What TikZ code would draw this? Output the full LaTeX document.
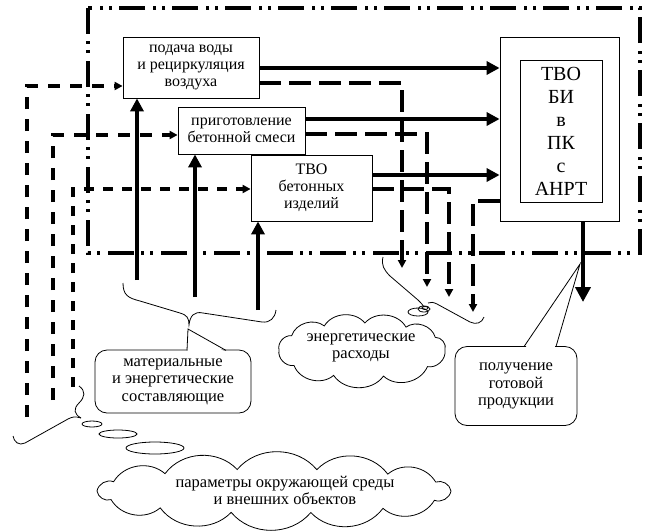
\documentclass[tikz,border=0pt]{standalone}
\usepackage{fontspec}
\setmainfont{Liberation Serif}
\usetikzlibrary{arrows.meta,calc}
\begin{document}
\begin{tikzpicture}[x=1pt,y=-1pt,
  box/.style={draw,line width=0.8pt,fill=white,align=center,inner sep=0pt,font=\fontsize{16}{17}\selectfont},
  bigtext/.style={align=center,inner sep=0pt,font=\fontsize{20}{23}\selectfont},
  callout/.style={draw,line width=0.8pt,fill=white,rounded corners=12pt,align=center,inner sep=0pt,font=\fontsize{16.5}{17.5}\selectfont},
  txt/.style={align=center,inner sep=0pt,font=\fontsize{16.5}{17}\selectfont},
  frame/.style={line width=3.2pt,dash pattern=on 26pt off 7pt on 3pt off 6pt on 3pt off 8pt},
  thickarrow/.style={line width=4.8pt,-{Triangle[length=13pt,width=13pt]}},
  leftdash/.style={line width=3.2pt,dash pattern=on 12pt off 10pt,-{Triangle[length=8pt,width=8pt]}},
  energydash/.style={line width=3.2pt,dash pattern=on 22pt off 8pt,-{Triangle[length=8pt,width=8pt]}},
  thinline/.style={line width=0.8pt},
  puff/.style={bend left=#1},
  puff/.default=55
]
\useasboundingbox (0,0) rectangle (645,531);

% frame
\draw[frame] (88,8) rectangle (640,253);

% blocks
\node[box,minimum width=136pt,minimum height=61pt] (b1) at (191,67.5) {подача воды\\и рециркуляция\\воздуха};
\node[box,minimum width=127pt,minimum height=47pt] (b2) at (241.5,130.5) {приготовление\\бетонной смеси};
\node[box,minimum width=121pt,minimum height=66pt] (b3) at (311.5,188) {ТВО\\бетонных\\изделий};
\node[draw,line width=0.8pt,fill=white,minimum width=119pt,minimum height=184pt,inner sep=0pt] (R) at (559.5,129) {};
\node[draw,line width=0.8pt,minimum width=82pt,minimum height=142pt,bigtext] (Rin) at (561,131) {ТВО\\БИ\\в\\ПК\\с\\АНРТ};

% helper coordinates
\coordinate (y68) at (0,68);
\coordinate (y83) at (0,83);
\coordinate (y86) at (0,86);
\coordinate (y119) at (0,119);
\coordinate (y134) at (0,134);
\coordinate (y135) at (0,135);
\coordinate (y175) at (0,175);
\coordinate (y189) at (0,189);
\coordinate (y201) at (0,201);
\coordinate (L1) at (27,417);
\coordinate (L2) at (53,400);
\coordinate (L3) at (73,387);
\coordinate (U1) at (137,280);
\coordinate (U2) at (195,297);
\coordinate (U3) at (258,310);
\coordinate (D) at (583,302);
\coordinate (E1) at (402,268);
\coordinate (E2) at (427,287);
\coordinate (E3) at (449,297);
\coordinate (E4) at (473,312);

% thick flows to the right block
\draw[thickarrow] (b1.east |- y68) -- (R.west |- y68);
\draw[thickarrow] (b2.east |- y119) -- (R.west |- y119);
\draw[thickarrow] (b3.east |- y175) -- (R.west |- y175);

% thick inputs from below
\draw[thickarrow] (U1) -- (U1 |- b1.south);
\draw[thickarrow] (U2) -- (U2 |- b2.south);
\draw[thickarrow] (U3) -- (U3 |- b3.south);

% output
\draw[line width=4.8pt,-{Triangle[length=15pt,width=15pt]}] (R.south -| D) -- (D);

% dashed inputs from the left
\draw[leftdash] (L1) |- (b1.west |- y86);
\draw[leftdash] (L2) |- (b2.west |- y135);
\draw[leftdash,dash pattern=on 10pt off 9pt] (L3) |- (b3.west |- y189);

% energy outputs
\draw[energydash] (b1.east |- y83) -| (E1);
\draw[energydash] (b2.east |- y134) -| (E2);
\draw[energydash] (b3.east |- y189) -| (E3);
\draw[energydash] (R.west |- y201) -| (E4);

% brace under material inputs
\draw[thinline] (123,283) .. controls (123,295) and (128,298) .. (140,301) -- (180,313)
  .. controls (187,315) and (189,318) .. (189,325)
  .. controls (190,316) and (194,311) .. (203,313) -- (262,322)
  .. controls (270,323) and (275,318) .. (276,310);

% callout: material and energy components
\node[callout,minimum width=156pt,minimum height=63pt] (M) at (173,381.5) {материальные\\и энергетические\\составляющие};
\fill[white] (187.6,351) -- (188,331) -- (224,351) -- cycle;
\draw[thinline] (187,350.4) -- (188,329) -- (226,350.4);

% callout: finished product
\node[callout,minimum width=122pt,minimum height=79pt] (P) at (516,386) {получение\\готовой\\продукции};
\fill[white] (525.5,347.6) -- (580,266) -- (554.5,347.6) -- cycle;
\draw[thinline] (524,346.6) -- (580,264) -- (556,346.6);

% brace at energy outputs
\draw[thinline] (383,257) .. controls (381,265) and (384,270) .. (390,276) -- (418,300)
  .. controls (421,303) and (423,305) .. (424,307);
\draw[thinline] (428,303) .. controls (431,302) and (433,302) .. (437,304) -- (470,322)
  .. controls (476,325) and (482,323) .. (484,317);

% energy cloud
\coordinate (Ec) at (362,350);
\draw[thinline,fill=white] ($(Ec)+(0:83 and 27)$)
  to[puff] ($(Ec)+(38:83 and 27)$) to[puff] ($(Ec)+(75:83 and 27)$)
  to[puff] ($(Ec)+(110:83 and 27)$) to[puff] ($(Ec)+(145:83 and 27)$)
  to[puff] ($(Ec)+(180:83 and 27)$) to[puff] ($(Ec)+(212:83 and 27)$)
  to[puff] ($(Ec)+(243:83 and 27)$) to[puff] ($(Ec)+(272:83 and 27)$)
  to[puff] ($(Ec)+(302:83 and 27)$) to[puff] ($(Ec)+(332:83 and 27)$)
  to[puff] ($(Ec)+(0:83 and 27)$);
\node[txt] (Etext) at (361,348) {энергетические\\расходы};
\draw[thinline,fill=white] (418,312) ellipse [x radius=10pt,y radius=4pt];
\draw[thinline] (424,309) ellipse [x radius=6pt,y radius=3pt];
\draw[thinline] (425,308) ellipse [x radius=3pt,y radius=1.5pt];

% brace and bubbles towards environment cloud
\draw[thinline] (79,386) .. controls (86,391) and (85,397) .. (79,403)
  .. controls (73,409) and (74,414) .. (81,418);
\draw[thinline] (81,418) .. controls (75,416) and (72,417) .. (68,419) -- (25,443)
  .. controls (19,446) and (14,442) .. (13,436);
\draw[thinline] (92,424) ellipse [x radius=10pt,y radius=3pt];
\draw[thinline] (118,434) ellipse [x radius=19pt,y radius=4pt];
\draw[thinline] (155,448) ellipse [x radius=29pt,y radius=6pt];

% environment cloud
\coordinate (Pc) at (274,491);
\draw[thinline,fill=white] ($(Pc)+(0:177 and 22)$)
  to[puff=50] ($(Pc)+(25:177 and 22)$) to[puff=50] ($(Pc)+(52:177 and 22)$)
  to[puff=50] ($(Pc)+(78:177 and 22)$) to[puff=50] ($(Pc)+(104:177 and 22)$)
  to[puff=50] ($(Pc)+(130:177 and 22)$) to[puff=50] ($(Pc)+(157:177 and 22)$)
  to[puff=50] ($(Pc)+(180:177 and 22)$) to[puff=50] ($(Pc)+(205:177 and 22)$)
  to[puff=50] ($(Pc)+(232:177 and 22)$) to[puff=50] ($(Pc)+(258:177 and 22)$)
  to[puff=50] ($(Pc)+(284:177 and 22)$) to[puff=50] ($(Pc)+(310:177 and 22)$)
  to[puff=50] ($(Pc)+(336:177 and 22)$) to[puff=50] ($(Pc)+(0:177 and 22)$);
\node[txt] (envtext) at (285,490) {параметры окружающей среды\\и внешних объектов};
\end{tikzpicture}
\end{document}
